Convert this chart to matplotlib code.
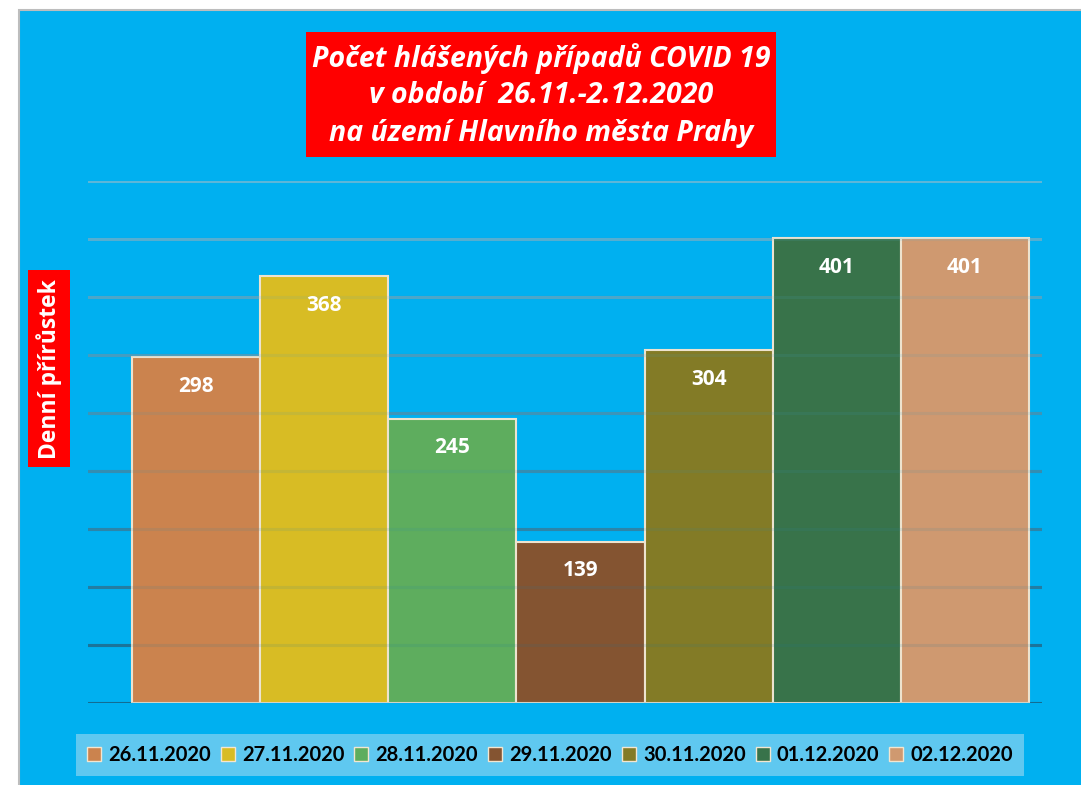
#!/usr/bin/env python3
"""
Denní přírůstek COVID 19 v Praze, 26.11.-2.12.2020: bar chart with one bar per day.
"""
import numpy as np
import matplotlib
matplotlib.use("Agg")
import matplotlib.pyplot as plt
from matplotlib.patches import Rectangle, Patch
from matplotlib.colors import to_rgb

# data
dates = ["26.11.2020", "27.11.2020", "28.11.2020", "29.11.2020",
         "30.11.2020", "01.12.2020", "02.12.2020"]
cases = [298, 368, 245, 139, 304, 401, 401]
bar_colors = ["#CB834E", "#D8BC24", "#5EAD5E", "#845431",
              "#837B26", "#38734A", "#CF9970"]
title_lines = ["Počet hlášených případů COVID 19",
               "v období  26.11.-2.12.2020",
               "na území Hlavního města Prahy"]
ylabel = "Denní přírůstek"

BG = "#00B0F0"
W, H = 1081, 785


def fx(px):
    return px / W


def fy(py):
    return 1 - py / H


def main():
    fig = plt.figure(figsize=(W / 100, H / 100), dpi=100, facecolor="white")

    # blue chart area with a thin grey frame
    fig.patches.append(Rectangle((fx(19), fy(H + 5)), fx(W + 10), fy(10) - fy(H + 5),
                                 transform=fig.transFigure, facecolor=BG,
                                 edgecolor="#BDBDBD", linewidth=1.5, zorder=-5))

    ax = fig.add_axes([fx(88), fy(703), fx(1042) - fx(88), fy(181) - fy(703)])
    ax.set_zorder(2)
    ax.set_facecolor("none")
    ax.set_ylim(0, 450)
    x = np.arange(len(cases))
    ax.set_xlim(-0.5 - 44 / 128, len(cases) - 0.5 + 13 / 128)

    # gridlines get darker towards the bottom; a faint copy shows through the bars
    top_c, bot_c = np.array(to_rgb("#5DB6D8")), np.array(to_rgb("#136C92"))
    levels = np.arange(0, 451, 50)
    for v in levels:
        t = v / 450
        c = bot_c * (1 - t) + top_c * t
        ax.axhline(v, color=c, linewidth=2.2, zorder=1)
        ax.axhline(v, color=c, linewidth=2.2, alpha=0.12, zorder=2.5)

    ax.bar(x, cases, width=1.0, color=bar_colors, edgecolor="#EDE3CF",
           linewidth=1.5, zorder=2)
    for xi, v in zip(x, cases):
        ax.annotate(str(v), (xi, v), xytext=(0, -21), textcoords="offset points",
                    ha="center", va="center", color="white", fontsize=15,
                    fontweight="bold", family="Open Sans", zorder=3)

    for s in ax.spines.values():
        s.set_visible(False)
    ax.set_xticks([])
    ax.set_yticks([])

    # title in a red box
    fig.patches.append(Rectangle((fx(306), fy(157)), fx(776) - fx(306), fy(32) - fy(157),
                                 transform=fig.transFigure, facecolor="#FF0000",
                                 edgecolor="none", zorder=1))
    for i, line in enumerate(title_lines):
        fig.text(fx(541), fy(58 + 37.5 * i), line, ha="center", va="center",
                 color="white", fontsize=20.5, fontweight="bold", style="italic",
                 family="Open Sans", zorder=3)

    # y label in a red box
    fig.patches.append(Rectangle((fx(28), fy(467)), fx(70) - fx(28), fy(270) - fy(467),
                                 transform=fig.transFigure, facecolor="#FF0000",
                                 edgecolor="none", zorder=1))
    fig.text(fx(49), fy(369), ylabel, ha="center", va="center", rotation=90,
             color="white", fontsize=16.5, fontweight="bold", family="Open Sans", zorder=3)

    # legend
    handles = [Patch(facecolor=c, edgecolor="#F3E6D0", linewidth=1.0) for c in bar_colors]
    leg = fig.legend(handles, dates, ncol=len(dates), loc="center",
                     bbox_to_anchor=(fx(550), fy(755)), frameon=True, fancybox=False,
                     prop={"family": "Lato", "weight": "bold", "size": 14.5},
                     handlelength=0.7, handleheight=0.7, handletextpad=0.35,
                     columnspacing=0.5, borderpad=0.55, borderaxespad=0)
    frame = leg.get_frame()
    frame.set_facecolor("#5FC8F0")
    frame.set_edgecolor("none")
    frame.set_alpha(1)

    fig.savefig("out.png", dpi=100, facecolor="white")
    plt.close(fig)


if __name__ == "__main__":
    main()
